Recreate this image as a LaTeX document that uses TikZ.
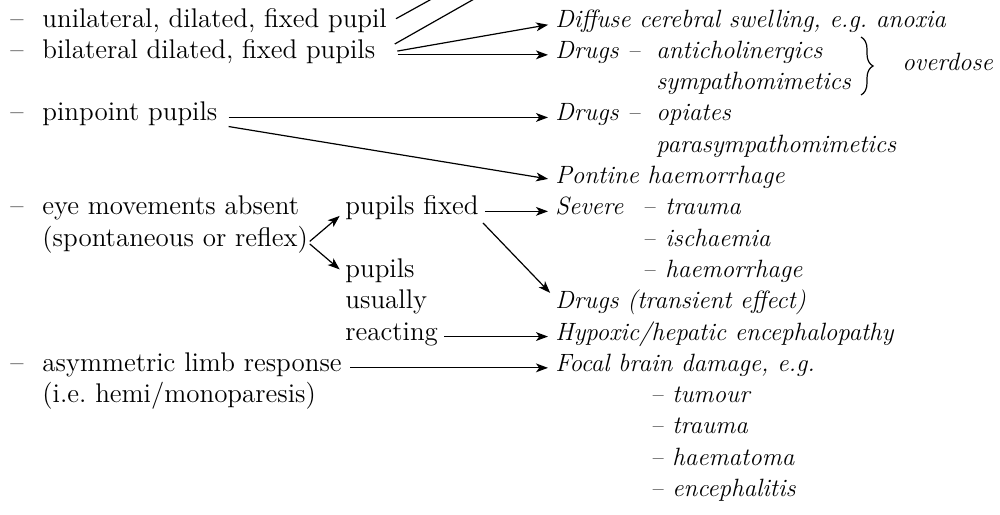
\documentclass[tikz,border=0pt]{standalone}
\usepackage{amsmath, amssymb}
\usetikzlibrary{arrows.meta, positioning, calc, decorations.pathreplacing}

\begin{document}
\begin{tikzpicture}[
    x=0.5pt, y=-0.5pt,
    lbl/.style={inner sep=0pt, anchor=base west, text height=1.2ex, text depth=0.4ex, font=\fontsize{13.5}{15}\selectfont},
    itm/.style={lbl, font=\fontsize{12.5}{15}\selectfont\itshape},
    arrow/.style={-{Stealth[length=6pt, width=4.4pt, inset=1.6pt]}, line width=0.6pt, shorten <=#1, shorten >=3.5pt},
    arrow/.default=4pt,
    link/.style={line width=0.6pt, shorten <=#1},
    link/.default=5pt
  ]
  \useasboundingbox (0,0) rectangle (1000,514);
  \clip (0,0) rectangle (1000,514);

  % left column
  \node[lbl] (dA) at (10,27) {\textendash};
  \node[lbl] (unil) at (42,27) {unilateral, dilated, fixed pupil};
  \node[lbl] (dB) at (10,58.3) {\textendash};
  \node[lbl] (bil) at (42,58.3) {bilateral dilated, fixed pupils};
  \node[lbl] (dC) at (10,120.9) {\textendash};
  \node[lbl] (pin) at (42,120.9) {pinpoint pupils};
  \node[lbl] (dD) at (10,214.8) {\textendash};
  \node[lbl] (eye) at (42,214.8) {eye movements absent};
  \node[lbl] (spon) at (42,246.1) {(spontaneous or reflex)};
  \node[lbl] (dE) at (10,371.3) {\textendash};
  \node[lbl] (asym) at (42,371.3) {asymmetric limb response};
  \node[lbl] (hemi) at (42,402.6) {(i.e.\ hemi/monoparesis)};

  % middle column
  \node[lbl] (pfix) at (345,214.8) {pupils fixed};
  \node[lbl] (pupl) at (345,277.4) {pupils};
  \node[lbl] (usu) at (345,308.7) {usually};
  \node[lbl] (react) at (345,340) {reacting};

  % right column
  \node[itm] (diff) at (555,27) {Diffuse cerebral swelling, e.g.\ anoxia};
  \node[itm] (drA) at (555,58.3) {Drugs \textendash};
  \node[itm] (anti) at (656,58.3) {anticholinergics};
  \node[itm] (symp) at (656,89.6) {sympathomimetics};
  \node[itm] (drB) at (555,120.9) {Drugs \textendash};
  \node[itm] (opi) at (656,120.9) {opiates};
  \node[itm] (para) at (656,152.2) {parasympathomimetics};
  \node[itm] (pont) at (555,183.5) {Pontine haemorrhage};
  \node[itm] (sev) at (555,214.8) {Severe};
  \node[itm] (sdA) at (642,214.8) {\textendash};
  \node[itm] (trau) at (665,214.8) {trauma};
  \node[itm] (sdB) at (642,246.1) {\textendash};
  \node[itm] (isch) at (665,246.1) {ischaemia};
  \node[itm] (sdC) at (642,277.4) {\textendash};
  \node[itm] (haem) at (665,277.4) {haemorrhage};
  \node[itm] (drT) at (555,308.7) {Drugs (transient effect)};
  \node[itm] (hyp) at (555,340) {Hypoxic/hepatic encephalopathy};
  \node[itm] (foc) at (555,371.3) {Focal brain damage, e.g.};
  \node[itm] (fdA) at (650,402.6) {\textendash};
  \node[itm] (tum) at (672,402.6) {tumour};
  \node[itm] (fdB) at (650,433.9) {\textendash};
  \node[itm] (ftr) at (672,433.9) {trauma};
  \node[itm] (fdC) at (650,465.2) {\textendash};
  \node[itm] (hmt) at (672,465.2) {haematoma};
  \node[itm] (fdD) at (650,496.5) {\textendash};
  \node[itm] (enc) at (672,496.5) {encephalitis};

  % brace
  \coordinate (brT) at (861,37);
  \coordinate (brB) at (861,95);
  \draw[decorate, decoration={brace, amplitude=6pt}, line width=0.6pt] (brT) -- (brB);
  \node[itm] (over) at (902,70) {overdose};

  % lines running off the top
  \coordinate (topA) at (448,-10);
  \coordinate (topB) at (490,-10);

  \draw[link] (unil.east) -- (topA);
  \draw[link=11pt] (bil.east) -- (topB);
  \draw[arrow=11pt] (bil.east) -- (diff.west);
  \draw[arrow=11pt] (bil.east) -- (drA.west);
  \draw[arrow=5.5pt] (pin.east) -- (drB.west);
  \draw[arrow=5.5pt] (pin.south east) -- (pont.west);
  \draw[arrow=1pt] (spon.east) -- (pfix.west);
  \draw[arrow=1pt] (spon.east) -- (pupl.west);
  \draw[arrow=3pt] (pfix.east) -- (sev.west);
  \draw[arrow=3pt] (pfix.south east) -- (drT.north west);
  \draw[arrow=3pt] (react.east) -- (hyp.west);
  \draw[arrow=4pt] (asym.east) -- (foc.west);
\end{tikzpicture}
\end{document}
